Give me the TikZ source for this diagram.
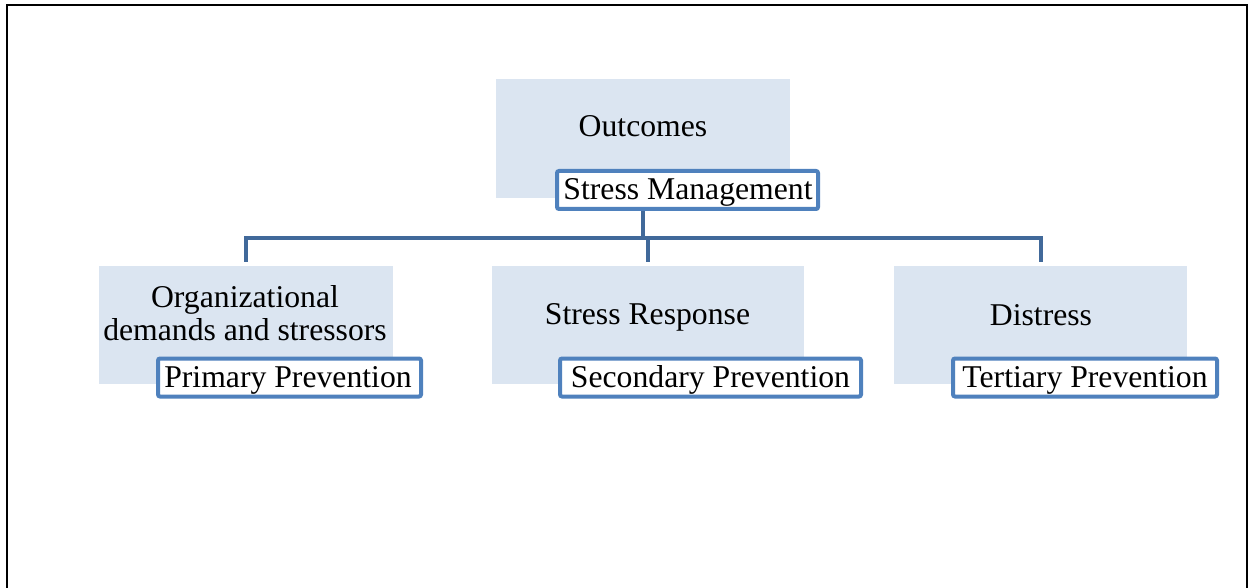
\documentclass[tikz,border=0pt]{standalone}
\usepackage{fontspec}
\setmainfont{Liberation Serif}
\definecolor{boxfill}{HTML}{DBE5F1}
\definecolor{tagline}{HTML}{4F81BD}
\definecolor{connc}{HTML}{41699A}
\begin{document}
\begin{tikzpicture}[x=1pt,y=-1pt,
  bigbox/.style={fill=boxfill,draw=none,inner sep=0pt,outer sep=0pt},
  tagbox/.style={fill=white,draw=tagline,line width=4pt,rounded corners=2pt,inner sep=0pt,outer sep=0pt,minimum height=38pt},
  lbl/.style={font=\fontsize{31.7}{34}\selectfont,inner sep=0pt,anchor=base,align=center},
  connline/.style={draw=connc,line width=4pt}]
\useasboundingbox (0,0) rectangle (1251,588);
% frame
\draw[line width=2pt] (7,588) -- (7,5) -- (1247,5) -- (1247,588);
% boxes (shapes first for anchors)
\path (643,138.5) node[minimum width=294pt,minimum height=119pt,inner sep=0pt,outer sep=0pt] (o) {};
\path (246,325) node[minimum width=294pt,minimum height=118pt,inner sep=0pt,outer sep=0pt] (org) {};
\path (648,325) node[minimum width=312pt,minimum height=118pt,inner sep=0pt,outer sep=0pt] (mid) {};
\path (1040.5,325) node[minimum width=293pt,minimum height=118pt,inner sep=0pt,outer sep=0pt] (dis) {};
\coordinate (bus) at (643,238);
% connectors
\draw[connline] (o.center) -- (o.center |- bus);
\draw[connline,shorten <=4pt,shorten >=4pt] (org.north) |- (bus) -| (dis.north);
\draw[connline,shorten >=4pt] (mid.north |- bus) -- (mid.north);
% filled boxes
\fill[boxfill] (o.north west) rectangle (o.south east);
\fill[boxfill] (org.north west) rectangle (org.south east);
\fill[boxfill] (mid.north west) rectangle (mid.south east);
\fill[boxfill] (dis.north west) rectangle (dis.south east);
% labels in big boxes
\node[lbl] (ot) at (643,137) {Outcomes};
\node[lbl] (orgt1) at (245,307) {Organizational};
\node[lbl] (orgt2) at (245,340) {demands and stressors};
\node[lbl] (midt) at (647.5,324) {Stress Response};
\node[lbl] (dist) at (1041,325) {Distress};
% tag boxes
\node[tagbox,minimum width=261pt] (sm) at (687.5,190) {};
\node[lbl] (smt) at (688,200) {Stress Management};
\node[tagbox,minimum width=263pt] (pp) at (289.5,377.5) {};
\node[lbl] (ppt) at (288,387) {Primary Prevention};
\node[tagbox,minimum width=301pt] (sp) at (710.5,377.5) {};
\node[lbl] (spt) at (710.5,387) {Secondary Prevention};
\node[tagbox,minimum width=264pt] (tp) at (1085,377.5) {};
\node[lbl] (tpt) at (1085,387) {Tertiary Prevention};
\end{tikzpicture}
\end{document}
